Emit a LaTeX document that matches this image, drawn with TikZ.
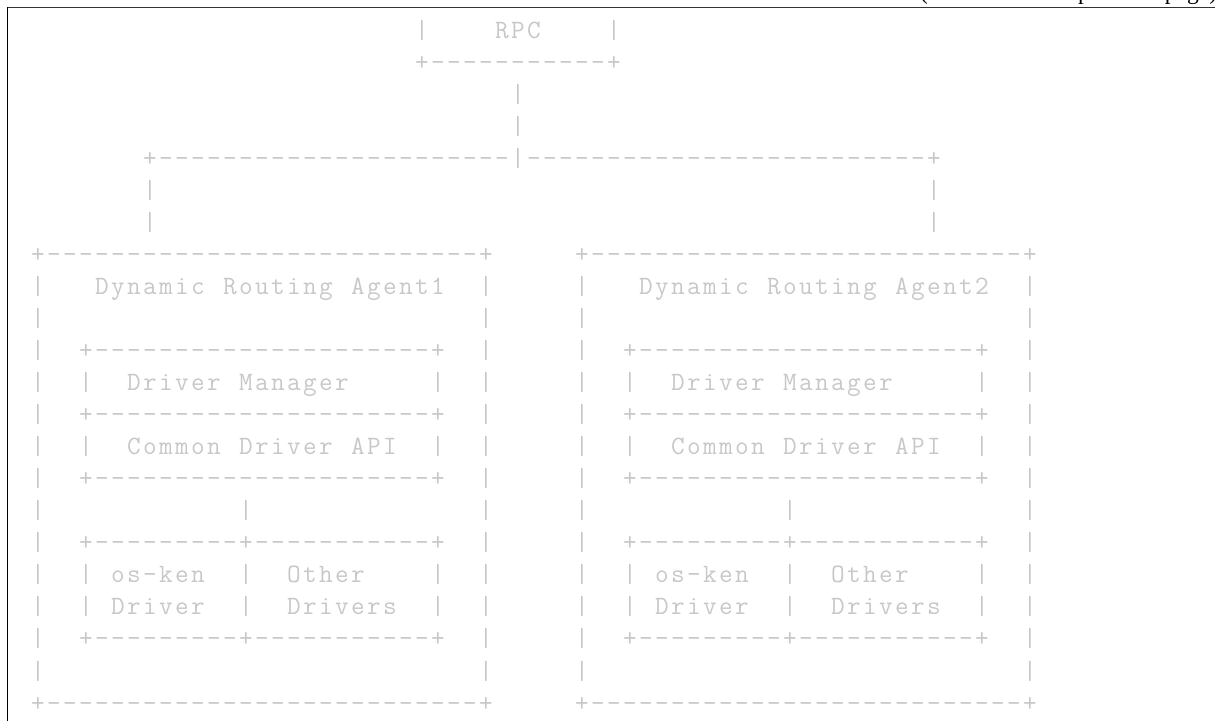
\documentclass[tikz,border=0pt]{standalone}
\usepackage{fontspec}
\newfontfamily\capfont{Liberation Serif}
\definecolor{asciigray}{RGB}{200,200,200}
\makeatletter
% typeset a line of ASCII art on a fixed 16pt grid; '.' stands for a blank cell
\def\asc#1{\asc@loop#1\relax}
\def\asc@loop#1{\ifx\relax#1\else\asc@char{#1}\expandafter\asc@loop\fi}
\def\asc@char#1{\if.#1\hbox to 16pt{\hfil}\else\hbox to 16pt{\hss#1\hss}\fi}
\makeatother
\tikzset{
  asc/.style={anchor=base west, inner sep=0pt, outer sep=0pt, text=asciigray,
    font=\ttfamily\fontsize{26.5}{32}\selectfont},
  frameline/.style={line width=1.6pt, draw=black},
}
\begin{document}
\begin{tikzpicture}[x=1pt,y=1pt]
\useasboundingbox (0,0) rectangle (1215,720);
\clip (0,0) rectangle (1215,720);
\fill[white] (0,0) rectangle (1215,720);
% page frame and continuation caption
\node[anchor=base west, inner sep=0pt, font=\capfont\fontsize{23.5}{28}\selectfont] (cont) at (920,720.5) {(continued from previous page)};
\coordinate (ftl) at (7.5,712.5);
\coordinate (ftr) at (1216,712.5);
\coordinate (fbl) at (7.5,-1);
\draw[frameline, draw=black!80] (ftl) -- (ftr);
\draw[frameline] (ftl) -- (fbl);
% RPC and the fan-out
\node[asc] (l1) at (414,681) {\asc{|....RPC....|}};
\node[asc] (l2) at (414,649) {\asc{+-----------+}};
\node[asc] (l3) at (510,617) {\asc{|}};
\node[asc] (l4) at (510,585) {\asc{|}};
\node[asc] (l5) at (142,553) {\asc{+----------------------|-------------------------+}};
\node[asc] (l6) at (142,521) {\asc{|................................................|}};
\node[asc] (l7) at (142,489) {\asc{|................................................|}};
% the two agents
\foreach \bx/\nm/\num in {30/a/1, 574/b/2}{
  \node[asc] (\nm8)  at (\bx,457) {\asc{+---------------------------+}};
  \node[asc] (\nm9)  at (\bx,425) {\asc{|...Dynamic.Routing.Agent\num..|}};
  \node[asc] (\nm10) at (\bx,393) {\asc{|...........................|}};
  \node[asc] (\nm11) at (\bx,361) {\asc{|..+---------------------+..|}};
  \node[asc] (\nm12) at (\bx,329) {\asc{|..|..Driver.Manager.....|..|}};
  \node[asc] (\nm13) at (\bx,297) {\asc{|..+---------------------+..|}};
  \node[asc] (\nm14) at (\bx,265) {\asc{|..|..Common.Driver.API..|..|}};
  \node[asc] (\nm15) at (\bx,233) {\asc{|..+---------------------+..|}};
  \node[asc] (\nm16) at (\bx,201) {\asc{|............|..............|}};
  \node[asc] (\nm17) at (\bx,169) {\asc{|..+---------+-----------+..|}};
  \node[asc] (\nm18) at (\bx,137) {\asc{|..|.os-ken..|..Other....|..|}};
  \node[asc] (\nm19) at (\bx,105) {\asc{|..|.Driver..|..Drivers..|..|}};
  \node[asc] (\nm20) at (\bx,73)  {\asc{|..+---------+-----------+..|}};
  \node[asc] (\nm21) at (\bx,41)  {\asc{|...........................|}};
  \node[asc] (\nm22) at (\bx,9)   {\asc{+---------------------------+}};
}
\end{tikzpicture}
\end{document}
